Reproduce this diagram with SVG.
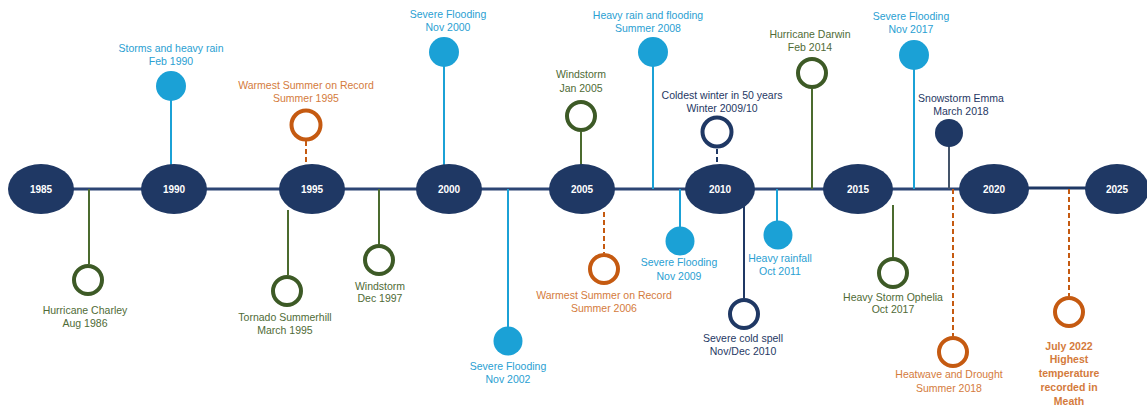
<svg xmlns="http://www.w3.org/2000/svg" width="1147" height="407" viewBox="0 0 1147 407">
<style>
text{font-family:"Liberation Sans",Arial,sans-serif;font-size:10.5px;text-anchor:middle}
.yr{fill:#fff;font-weight:bold;font-size:10px}
.yre{fill:#1f3864}
.tb{fill:#2aa0d2}.tg{fill:#4f6b36}.to{fill:#d47b3c}.tn{fill:#1f3864}
.lb{stroke:#1ba1d6;stroke-width:2;fill:none}
.lg{stroke:#4b6b2e;stroke-width:2;fill:none}
.ln{stroke:#1f3864;stroke-width:2;fill:none}
.lo{stroke:#c55a11;stroke-width:2;stroke-dasharray:5 3;fill:none}
.lnd{stroke:#1f3864;stroke-width:2;stroke-dasharray:5 3;fill:none}
.cb{fill:#1ba1d6}
.cg{fill:#fff;stroke:#3d5a26;stroke-width:4}
.co{fill:#fff;stroke:#c55a11;stroke-width:4}
.cn{fill:#fff;stroke:#1f3864;stroke-width:4}
.cnf{fill:#1f3864}
</style>
<g id="connectors">
<line x1="41" y1="189" x2="994" y2="189" stroke="#2c4574" stroke-width="3"/>
<line x1="994" y1="188" x2="1117" y2="188" stroke="#1f3864" stroke-width="3"/>
<line class="lb" x1="171" y1="86" x2="171" y2="189"/>
<line class="lo" x1="306" y1="141" x2="306" y2="166"/>
<line class="lb" x1="444" y1="52" x2="444" y2="166"/>
<line class="lg" x1="581" y1="132" x2="581" y2="166"/>
<line class="lb" x1="653" y1="52" x2="653" y2="189"/>
<line class="lnd" x1="717" y1="149" x2="717" y2="166"/>
<line class="lg" x1="812" y1="89" x2="812" y2="189"/>
<line class="lb" x1="914" y1="55" x2="914" y2="189"/>
<line stroke="#44546a" stroke-width="2" x1="949" y1="133" x2="949" y2="189"/>
<line class="lg" x1="89" y1="189" x2="89" y2="264"/>
<line class="lg" x1="288" y1="210" x2="288" y2="275"/>
<line class="lg" x1="379" y1="189" x2="379" y2="244"/>
<line class="lb" x1="508" y1="189" x2="508" y2="327"/>
<line class="lo" x1="604" y1="212" x2="604" y2="253"/>
<line class="lb" x1="680" y1="189" x2="680" y2="227"/>
<line class="ln" x1="744" y1="205" x2="744" y2="298"/>
<line class="lb" x1="777" y1="189" x2="777" y2="221"/>
<line class="lg" x1="893" y1="205" x2="893" y2="257"/>
<line class="lo" x1="953" y1="189" x2="953" y2="336"/>
<line class="lo" x1="1069" y1="189" x2="1069" y2="296"/>
</g>
<g id="y1985"><ellipse cx="41" cy="189" rx="33" ry="25" fill="#1f3864"/><text class="yr" x="41" y="193">1985</text></g>
<g id="y1990"><ellipse cx="174" cy="189" rx="33" ry="25" fill="#1f3864"/><text class="yr" x="174" y="193">1990</text></g>
<g id="y1995"><ellipse cx="312" cy="189" rx="33" ry="25" fill="#1f3864"/><text class="yr" x="312" y="193">1995</text></g>
<g id="y2000"><ellipse cx="449" cy="189" rx="33" ry="25" fill="#1f3864"/><text class="yr" x="449" y="193">2000</text></g>
<g id="y2005"><ellipse cx="582" cy="189" rx="33" ry="25" fill="#1f3864"/><text class="yr" x="582" y="193">2005</text></g>
<g id="y2010"><ellipse cx="720" cy="189" rx="35" ry="25" fill="#1f3864"/><text class="yr" x="720" y="193">2010</text></g>
<g id="y2015"><ellipse cx="858" cy="189" rx="35" ry="25" fill="#1f3864"/><text class="yr" x="858" y="193">2015</text></g>
<g id="y2020"><ellipse cx="994" cy="189" rx="35" ry="25" fill="#1f3864"/><text class="yr" x="994" y="193">2020</text></g>
<g id="y2025"><ellipse cx="1117" cy="189" rx="32" ry="25" fill="#1f3864"/><text class="yr" x="1117" y="193">2025</text></g>

<g id="e1990"><circle class="cb" cx="171" cy="86" r="15"/><text class="tb" x="171" y="52">Storms and heavy rain</text><text class="tb" x="171" y="65">Feb 1990</text></g>
<g id="e1995s"><circle class="co" cx="306" cy="125" r="14.5"/><text class="to" x="306" y="89">Warmest Summer on Record</text><text class="to" x="306" y="102">Summer 1995</text></g>
<g id="e2000"><circle class="cb" cx="444" cy="52" r="15"/><text class="tb" x="448" y="18">Severe Flooding</text><text class="tb" x="448" y="31">Nov 2000</text></g>
<g id="e2005"><circle class="cg" cx="581" cy="116" r="14"/><text class="tg" x="581" y="78">Windstorm</text><text class="tg" x="581" y="92">Jan 2005</text></g>
<g id="e2008"><circle class="cb" cx="653" cy="52" r="15"/><text class="tb" x="648" y="19">Heavy rain and flooding</text><text class="tb" x="648" y="32">Summer 2008</text></g>
<g id="e2009w"><circle class="cn" cx="717" cy="132" r="14.5"/><text class="tn" x="722" y="99">Coldest winter in 50 years</text><text class="tn" x="722" y="112">Winter 2009/10</text></g>
<g id="e2014"><circle class="cg" cx="812" cy="73" r="14"/><text class="tg" x="810" y="38">Hurricane Darwin</text><text class="tg" x="810" y="51">Feb 2014</text></g>
<g id="e2017f"><circle class="cb" cx="914" cy="55" r="15"/><text class="tb" x="911" y="20">Severe Flooding</text><text class="tb" x="911" y="33">Nov 2017</text></g>
<g id="e2018s"><circle class="cnf" cx="949" cy="133" r="14"/><text class="tn" x="961" y="102">Snowstorm Emma</text><text class="tn" x="961" y="115">March 2018</text></g>

<g id="e1986"><circle class="cg" cx="88" cy="280" r="14"/><text class="tg" x="85" y="314">Hurricane Charley</text><text class="tg" x="85" y="327">Aug 1986</text></g>
<g id="e1995t"><circle class="cg" cx="287" cy="291" r="14"/><text class="tg" x="285" y="321">Tornado Summerhill</text><text class="tg" x="285" y="334">March 1995</text></g>
<g id="e1997"><circle class="cg" cx="379" cy="260" r="14"/><text class="tg" x="380" y="290">Windstorm</text><text class="tg" x="380" y="302">Dec 1997</text></g>
<g id="e2002"><circle class="cb" cx="508" cy="341" r="14.5"/><text class="tb" x="508" y="370">Severe Flooding</text><text class="tb" x="508" y="383">Nov 2002</text></g>
<g id="e2006"><circle class="co" cx="604" cy="269" r="14"/><text class="to" x="604" y="299">Warmest Summer on Record</text><text class="to" x="604" y="312">Summer 2006</text></g>
<g id="e2009f"><circle class="cb" cx="680" cy="241" r="14.5"/><text class="tb" x="679" y="266">Severe Flooding</text><text class="tb" x="679" y="280">Nov 2009</text></g>
<g id="e2010c"><circle class="cn" cx="744" cy="314" r="14"/><text class="tn" x="743" y="342">Severe cold spell</text><text class="tn" x="743" y="355">Nov/Dec 2010</text></g>
<g id="e2011"><circle class="cb" cx="778" cy="235" r="14.5"/><text class="tb" x="780" y="262">Heavy rainfall</text><text class="tb" x="780" y="275">Oct 2011</text></g>
<g id="e2017o"><circle class="cg" cx="893" cy="273" r="14"/><text class="tg" x="893" y="301">Heavy Storm Ophelia</text><text class="tg" x="893" y="313">Oct 2017</text></g>
<g id="e2018h"><circle class="co" cx="953" cy="352" r="14"/><text class="to" x="949" y="378">Heatwave and Drought</text><text class="to" x="949" y="392">Summer 2018</text></g>
<g id="e2022"><circle class="co" cx="1069" cy="312" r="14"/><text class="to" x="1069" y="350" font-weight="bold">July 2022</text><text class="to" x="1069" y="363" font-weight="bold">Highest</text><text class="to" x="1069" y="377" font-weight="bold">temperature</text><text class="to" x="1069" y="391" font-weight="bold">recorded in</text><text class="to" x="1069" y="405" font-weight="bold">Meath</text></g>
</svg>
